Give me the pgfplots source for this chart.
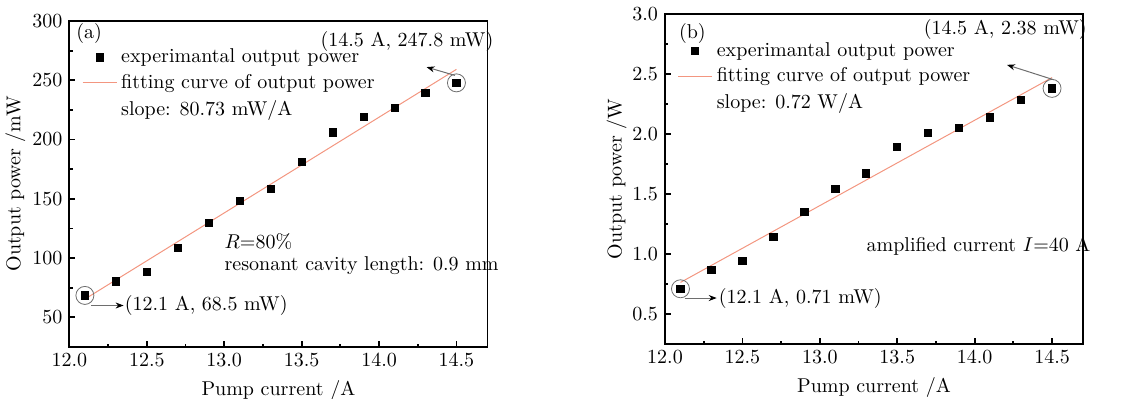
\documentclass[border=0pt]{standalone}
\usepackage{pgfplots}
\pgfplotsset{compat=1.18}
\usetikzlibrary{arrows.meta}
\definecolor{fitc}{RGB}{243,150,128}
\definecolor{annc}{RGB}{110,110,110}
\pgfplotstableread{
x y
12.1 68.5
12.3 80.4
12.5 88.3
12.7 108.6
12.9 130.0
13.1 148.5
13.3 158.4
13.5 181.2
13.7 206.0
13.9 219.2
14.1 226.8
14.3 239.2
14.5 247.8
}\dataA
\pgfplotstableread{
x y
12.1 0.71
12.3 0.868
12.5 0.94
12.7 1.14
12.9 1.353
13.1 1.541
13.3 1.671
13.5 1.893
13.7 2.009
13.9 2.05
14.1 2.139
14.3 2.283
14.5 2.38
}\dataB
\pgfplotsset{
  common/.style={
    scale only axis, width=209pt,
    anchor=south west,
    clip=false,
    axis line style={line width=0.9pt},
    tick style={line width=0.9pt, black},
    tick align=inside,
    xtick pos=bottom, ytick pos=left,
    major tick length=3pt, minor tick length=1.6pt,
    minor tick num=1,
    xmin=12.0, xmax=14.7,
    xtick={12,12.5,13,13.5,14,14.5},
    xticklabel style={/pgf/number format/fixed, /pgf/number format/fixed zerofill, /pgf/number format/precision=1},
    xlabel={Pump current /A},
    xlabel style={at={(axis description cs:0.5,-0.133)}, anchor=center},
    legend cell align=left,
    legend style={draw=none, fill=none, at={(0.015,0.94)}, anchor=north west, row sep=0.3pt},
  },
  mk/.style={only marks, mark=square*, mark size=1.8pt, black},
  fit/.style={fitc, line width=0.5pt, no marks},
}
\tikzset{ann/.style={annc, line width=0.5pt, -{Stealth[length=4pt,width=3pt,color=black]}}}
\begin{document}
\begin{tikzpicture}
\useasboundingbox (0,0) rectangle (567pt,199.5pt);
\begin{axis}[common, at={(34.7pt,26pt)}, height=163pt,
  ymin=25, ymax=300, ytick={50,100,...,300},
  ylabel={Output power /mW},
  ylabel style={at={(axis description cs:-0.129,0.5)}, anchor=center}]
\addplot[mk] table[x=x,y=y] {\dataA};
\addlegendentry{experimantal output power}
\addplot[fit] coordinates {(12.1,65.4) (14.5,259.2)};
\addlegendentry{fitting curve of output power}
\addlegendimage{empty legend}
\addlegendentry{slope: 80.73 mW/A}
\node at (axis cs:12.127,289.3) {(a)};
\draw[annc, line width=0.4pt] (axis cs:12.1,68.5) circle[radius=4.5pt];
\draw[annc, line width=0.4pt] (axis cs:14.5,247.8) circle[radius=4.5pt];
\draw[ann] (axis cs:12.14,60) -- (axis cs:12.35,60);
\node[anchor=west, inner sep=0pt] at (axis cs:12.355,60) {(12.1 A, 68.5 mW)};
\draw[ann] (axis cs:14.49,254.1) -- (axis cs:14.307,261.1);
\node at (axis cs:14.18,282.3) {(14.5 A, 247.8 mW)};
\node[anchor=west, inner sep=0pt] at (axis cs:13.0,114.2) {$R$=80\%};
\node[anchor=west, inner sep=0pt] at (axis cs:13.0,93.6) {resonant cavity length: 0.9 mm};
\end{axis}
\begin{axis}[common, at={(332.5pt,27.5pt)}, height=165pt,
  ymin=0.25, ymax=3.0, ytick={0.5,1.0,...,3.0},
  yticklabel style={/pgf/number format/fixed, /pgf/number format/fixed zerofill, /pgf/number format/precision=1},
  ylabel={Output power /W},
  ylabel style={at={(axis description cs:-0.116,0.5)}, anchor=center}]
\addplot[mk] table[x=x,y=y] {\dataB};
\addlegendentry{experimantal output power}
\addplot[fit] coordinates {(12.1,0.763) (14.5,2.47)};
\addlegendentry{fitting curve of output power}
\addlegendimage{empty legend}
\addlegendentry{slope: 0.72 W/A}
\node at (axis cs:12.177,2.84) {(b)};
\draw[annc, line width=0.4pt] (axis cs:12.1,0.71) circle[radius=4.5pt];
\draw[annc, line width=0.4pt] (axis cs:14.5,2.38) circle[radius=4.5pt];
\draw[ann] (axis cs:12.129,0.633) -- (axis cs:12.334,0.633);
\node[anchor=west, inner sep=0pt] at (axis cs:12.345,0.633) {(12.1 A, 0.71 mW)};
\draw[ann] (axis cs:14.51,2.452) -- (axis cs:14.209,2.576);
\node at (axis cs:14.198,2.873) {(14.5 A, 2.38 mW)};
\node[anchor=west, inner sep=0pt] at (axis cs:13.30,1.068) {amplified current $I$=40 A};
\end{axis}
\end{tikzpicture}
\end{document}
